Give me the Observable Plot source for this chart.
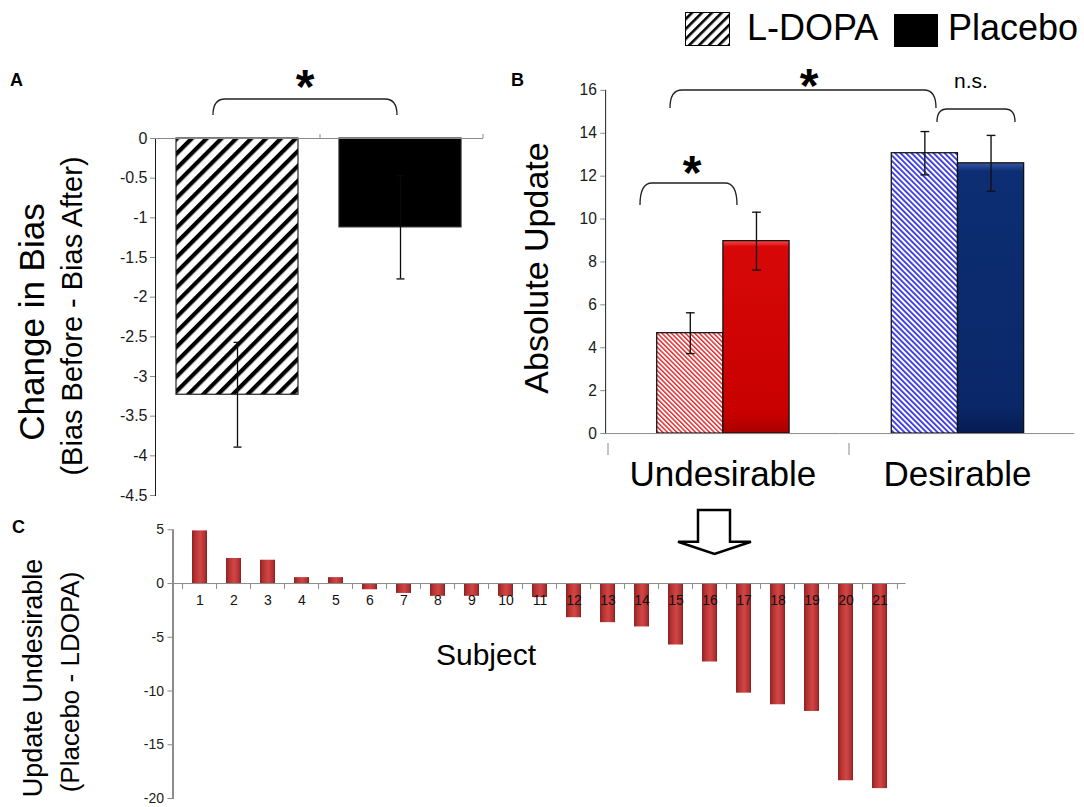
<!DOCTYPE html>
<html>
<head>
<meta charset="utf-8">
<script src="https://cdn.jsdelivr.net/npm/d3@7"></script>
<script src="https://cdn.jsdelivr.net/npm/@observablehq/plot@0.6"></script>
<style>
html,body{margin:0;padding:0;background:#fff;}
#root{position:relative;width:1084px;height:807px;overflow:hidden;font-family:"Liberation Sans",Arial,Helvetica,sans-serif;}
.panel{position:absolute;}
.panel svg{overflow:visible;}
.panel svg text{font-family:"Liberation Sans",Arial,Helvetica,sans-serif;}
.panel g[aria-label^="y-axis"] line,.panel g[aria-label^="y-axis"] path{stroke:#8a8a8a;}
#pA g[aria-label^="y-axis"] text{font-size:16px;fill:#1a1a1a;}
#pB g[aria-label^="y-axis"] text{font-size:16px;fill:#1a1a1a;}
#pC g[aria-label^="y-axis"] text{font-size:14px;fill:#1a1a1a;}
.panel g[aria-label^="fx-axis"] text{font-size:36px;fill:#000;}
#ann{position:absolute;left:0;top:0;pointer-events:none;}
</style>
</head>
<body>
<div id="root">
<svg width="0" height="0" style="position:absolute;left:0;top:0">
 <defs>
  <pattern id="hatchA" patternUnits="userSpaceOnUse" width="10.5" height="10.5" patternTransform="rotate(45)">
   <rect width="10.5" height="10.5" fill="#fff"/>
   <rect width="4.2" height="10.5" fill="#000"/>
  </pattern>
  <pattern id="hatchLegend" patternUnits="userSpaceOnUse" width="7" height="7" patternTransform="rotate(45)">
   <rect width="7" height="7" fill="#fff"/>
   <rect width="2.6" height="7" fill="#000"/>
  </pattern>
  <pattern id="hatchRed" patternUnits="userSpaceOnUse" width="3.4" height="3.4" patternTransform="rotate(-45)">
   <rect width="3.4" height="3.4" fill="#fff"/>
   <rect width="1.5" height="3.4" fill="#e8272a"/>
  </pattern>
  <pattern id="hatchBlue" patternUnits="userSpaceOnUse" width="4" height="4" patternTransform="rotate(-45)">
   <rect width="4" height="4" fill="#fff"/>
   <rect width="1.8" height="4" fill="#2f2fe0"/>
  </pattern>
  <linearGradient id="gradRed" x1="0" y1="0" x2="0" y2="1">
   <stop offset="0" stop-color="#ff4a4a"/>
   <stop offset="0.03" stop-color="#d80808"/>
   <stop offset="0.9" stop-color="#c80000"/>
   <stop offset="1" stop-color="#a80000"/>
  </linearGradient>
  <linearGradient id="gradNavy" x1="0" y1="0" x2="0" y2="1">
   <stop offset="0" stop-color="#3557a8"/>
   <stop offset="0.03" stop-color="#0d2e74"/>
   <stop offset="0.9" stop-color="#0a2868"/>
   <stop offset="1" stop-color="#061c52"/>
  </linearGradient>
  <linearGradient id="gradC" x1="0" y1="0" x2="1" y2="0">
   <stop offset="0" stop-color="#8c2323"/>
   <stop offset="0.25" stop-color="#b93535"/>
   <stop offset="0.55" stop-color="#d24545"/>
   <stop offset="0.85" stop-color="#b23232"/>
   <stop offset="1" stop-color="#852020"/>
  </linearGradient>
 </defs>
</svg>
<div id="pA" class="panel" style="left:0;top:60px"></div>
<div id="pB" class="panel" style="left:500px;top:60px"></div>
<div id="pC" class="panel" style="left:0;top:500px"></div>
<svg id="ann" width="1084" height="807" font-family="Liberation Sans, Arial, Helvetica, sans-serif">
 <g fill="#000" font-weight="bold" font-size="18">
  <text x="10" y="86">A</text>
  <text x="511" y="86">B</text>
  <text x="12" y="533">C</text>
 </g>
 <!-- legend -->
 <rect x="685.5" y="12.5" width="44" height="33" fill="url(#hatchLegend)" stroke="#000" stroke-width="1"/>
 <text x="747" y="40" font-size="36" fill="#000">L-DOPA</text>
 <rect x="894" y="14" width="44" height="33" fill="#000"/>
 <text x="948" y="40" font-size="36" fill="#000">Placebo</text>
 <!-- axis titles -->
 <text transform="translate(44,322) rotate(-90)" text-anchor="middle" font-size="35" fill="#000">Change in Bias</text>
 <text transform="translate(82,316) rotate(-90)" text-anchor="middle" font-size="29" fill="#000">(Bias Before - Bias After)</text>
 <text transform="translate(548,268) rotate(-90)" text-anchor="middle" font-size="34" fill="#000">Absolute Update</text>
 <text transform="translate(42,678) rotate(-90)" text-anchor="middle" font-size="27" fill="#000">Update Undesirable</text>
 <text transform="translate(79,682) rotate(-90)" text-anchor="middle" font-size="26" fill="#000">(Placebo - LDOPA)</text>
 <text x="486" y="665" text-anchor="middle" font-size="30" fill="#000">Subject</text>
 <!-- significance brackets -->
 <g fill="none" stroke="#222" stroke-width="1.3">
  <path d="M213,115 Q213,99 225,99 L385,99 Q397,99 397,115"/>
  <path d="M640,205 Q640,183 652,183 L725,183 Q737,183 737,205"/>
  <path d="M670,108 Q670,90 682,90 L924,90 Q936,90 936,108"/>
  <path d="M937,122 Q937,109 947,109 L1005,109 Q1015,109 1015,122"/>
 </g>
 <g font-weight="bold" font-size="48" text-anchor="middle" fill="#000">
  <text x="305" y="103">*</text>
  <text x="809" y="102">*</text>
  <text x="692" y="189">*</text>
 </g>
 <text x="971" y="88" text-anchor="middle" font-size="21" fill="#000">n.s.</text>
 <!-- small axis extras -->
 <g stroke="#8a8a8a" stroke-width="1">
  <line x1="608" y1="443" x2="608" y2="455"/>
  <line x1="849" y1="443" x2="849" y2="455"/>
  <line x1="320" y1="134" x2="320" y2="138"/>
  <line x1="483" y1="134" x2="483" y2="138"/>
 </g>
 <!-- arrow -->
 <path d="M698,510 L730,510 L730,541.7 L751,541.7 L714.5,554 L678,541.7 L698,541.7 Z" fill="#fff" stroke="#000" stroke-width="2.5" stroke-linejoin="miter"/>
</svg>
</div>
<script>
// ---------- data ----------
// Panel A
const groupsA = ["L-DOPA", "Placebo"];
const biasChange = [-3.23, -1.12];
const biasChangeErr = [0.66, 0.65];
const ticksA = [0, -0.5, -1, -1.5, -2, -2.5, -3, -3.5, -4, -4.5];

// Panel B
const valenceB = ["Undesirable", "Desirable"];
const drugB = ["L-DOPA", "Placebo"];
const updateLDOPA = [4.68, 13.07];
const updateLDOPAErr = [0.95, 1.01];
const updatePlacebo = [8.97, 12.6];
const updatePlaceboErr = [1.35, 1.3];
const ticksB = [0, 2, 4, 6, 8, 10, 12, 14, 16];

// Panel C
const subjects = ["1","2","3","4","5","6","7","8","9","10","11","12","13","14","15","16","17","18","19","20","21"];
const undesirableDiff = [4.9, 2.33, 2.17, 0.55, 0.55, -0.58, -0.92, -1.19, -1.19, -1.2, -1.3,
  -3.18, -3.64, -4.04, -5.72, -7.3, -10.2, -11.28, -11.9, -18.35, -19.08];
const ticksC = [5, 0, -5, -10, -15, -20];

// ---------- styling ----------
const FONT = "Liberation Sans, Arial, Helvetica, sans-serif";
const fillA = {"L-DOPA": "url(#hatchA)", "Placebo": "#000"};
const fillB = {
  "Undesirable|L-DOPA": "url(#hatchRed)",
  "Undesirable|Placebo": "url(#gradRed)",
  "Desirable|L-DOPA": "url(#hatchBlue)",
  "Desirable|Placebo": "url(#gradNavy)"
};
const capSym = {draw(ctx, size) { const w = Math.sqrt(size / Math.PI); ctx.moveTo(-w, 0); ctx.lineTo(w, 0); }};
const fmt = d => String(d);

// ---------- Panel A ----------
const rowsA = groupsA.map((g, i) => ({g, v: biasChange[i], e: biasChangeErr[i]}));
const plotA = Plot.plot({
  width: 500, height: 440,
  marginLeft: 155, marginRight: 17, marginTop: 78, marginBottom: 5,
  style: {fontFamily: FONT, fontSize: "16px", color: "#1a1a1a", background: "transparent", overflow: "visible"},
  x: {domain: groupsA, paddingInner: 0.25, paddingOuter: 0.13, axis: null},
  y: {domain: [-4.5, 0], ticks: ticksA, tickFormat: fmt, tickSize: 5, tickPadding: 3, line: true, label: null},
  color: {type: "identity"},
  marks: [
    Plot.barY(rowsA, {x: "g", y: "v", fill: d => fillA[d.g], stroke: "#222", strokeWidth: 1.2}),
    Plot.ruleY([0], {stroke: "#8a8a8a"}),
    Plot.ruleX(rowsA, {x: "g", y1: d => d.v - d.e, y2: d => d.v + d.e, stroke: "#0a0a0a", strokeWidth: 1.3}),
    Plot.dot(rowsA, {x: "g", y: d => d.v - d.e, symbol: capSym, r: 4, fill: "none", stroke: "#0a0a0a", strokeWidth: 1.3}),
    Plot.dot(rowsA, {x: "g", y: d => d.v + d.e, symbol: capSym, r: 4, fill: "none", stroke: "#0a0a0a", strokeWidth: 1.3})
  ]
});
document.getElementById("pA").append(plotA);

// ---------- Panel B ----------
const rowsB = [];
valenceB.forEach((g, i) => {
  rowsB.push({g, d: "L-DOPA", v: updateLDOPA[i], e: updateLDOPAErr[i]});
  rowsB.push({g, d: "Placebo", v: updatePlacebo[i], e: updatePlaceboErr[i]});
});
const plotB = Plot.plot({
  width: 600, height: 460,
  marginLeft: 108, marginRight: 10, marginTop: 30.7, marginBottom: 76.7,
  style: {fontFamily: FONT, fontSize: "16px", color: "#1a1a1a", background: "transparent", overflow: "visible"},
  facet: {data: rowsB, x: "g"},
  fx: {domain: valenceB, padding: 0, label: null, tickSize: 0, tickPadding: 28},
  x: {domain: drugB, paddingInner: 0, paddingOuter: 0.759, axis: null},
  y: {domain: [0, 16], ticks: ticksB, tickFormat: fmt, tickSize: 5, tickPadding: 4, line: true, label: null},
  color: {type: "identity"},
  marks: [
    Plot.barY(rowsB, {x: "d", y: "v", fill: d => fillB[d.g + "|" + d.d], stroke: "#111", strokeWidth: 1.3}),
    Plot.ruleY([0], {stroke: "#8a8a8a"}),
    Plot.ruleX(rowsB, {x: "d", y1: d => d.v - d.e, y2: d => d.v + d.e, stroke: "#111", strokeWidth: 1.4}),
    Plot.dot(rowsB, {x: "d", y: d => d.v - d.e, symbol: capSym, r: 4.5, fill: "none", stroke: "#111", strokeWidth: 1.4}),
    Plot.dot(rowsB, {x: "d", y: d => d.v + d.e, symbol: capSym, r: 4.5, fill: "none", stroke: "#111", strokeWidth: 1.4})
  ]
});
document.getElementById("pB").append(plotB);

// ---------- Panel C ----------
const rowsC = subjects.map((s, i) => ({s, v: undesirableDiff[i]}));
const widthC = 920, mlC = 172.5, mrC = 14.5;
const stepC = (widthC - mlC - mrC) / subjects.length;
const plotC = Plot.plot({
  width: widthC, height: 307,
  marginLeft: mlC, marginRight: mrC, marginTop: 29.3, marginBottom: 9,
  style: {fontFamily: FONT, fontSize: "14px", color: "#1a1a1a", background: "transparent", overflow: "visible"},
  x: {domain: subjects, paddingInner: 0.56, paddingOuter: 0.28, axis: null},
  y: {domain: [-20, 5], ticks: ticksC, tickFormat: fmt, tickSize: 5, tickPadding: 4, line: true, label: null},
  marks: [
    Plot.barY(rowsC, {x: "s", y: "v", fill: "url(#gradC)"}),
    Plot.ruleY([0], {stroke: "#8a8a8a"}),
    Plot.ruleX(rowsC, {x: "s", y1: 0, y2: -0.55, dx: -stepC / 2, stroke: "#8a8a8a"}),
    Plot.ruleX(rowsC.slice(-1), {x: "s", y1: 0, y2: -0.55, dx: stepC / 2, stroke: "#8a8a8a"}),
    Plot.text(rowsC, {x: "s", y: 0, text: "s", dy: 17, fontSize: 14, fill: "#111"})
  ]
});
document.getElementById("pC").append(plotC);
</script>
</body>
</html>
